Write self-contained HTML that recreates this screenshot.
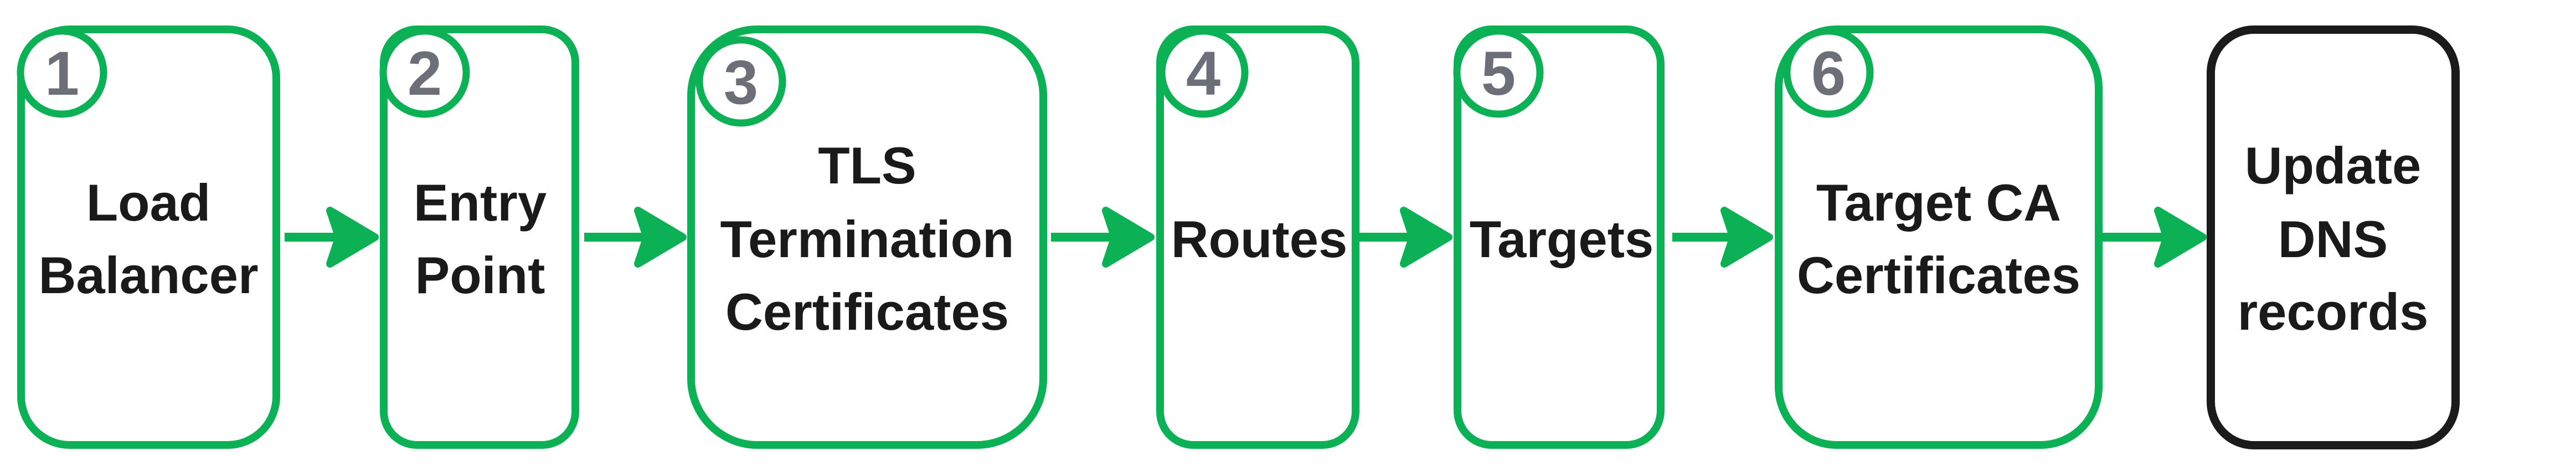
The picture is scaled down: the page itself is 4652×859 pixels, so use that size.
<!DOCTYPE html>
<html><head><meta charset="utf-8"><style>
html,body{margin:0;padding:0;background:#fff;}
svg{display:block;}
.lbl{font-family:"Liberation Sans",Arial,sans-serif;font-weight:bold;font-size:94px;fill:#1a1a1a;text-anchor:middle;}
.num{font-family:"Liberation Sans",Arial,sans-serif;font-weight:bold;font-size:112px;fill:#6c6f77;text-anchor:middle;}
</style></head><body>
<svg width="4652" height="859" viewBox="0 0 4652 859" xmlns="http://www.w3.org/2000/svg">
<g fill="none" stroke="#0db155" stroke-width="14">
<rect x="38" y="53" width="461" height="750" rx="88"/>
<rect x="693" y="53" width="346" height="750" rx="60"/>
<rect x="1248" y="53" width="636" height="750" rx="120"/>
<rect x="2095" y="53" width="353" height="750" rx="60"/>
<rect x="2632" y="53" width="367" height="750" rx="62"/>
<rect x="3212" y="53" width="578" height="750" rx="105"/>
</g>
<rect x="3992.5" y="53.5" width="442" height="750" rx="78" fill="none" stroke="#1b1b1b" stroke-width="15"/>
<g fill="#fff" stroke="#0db155" stroke-width="13">
<circle cx="112" cy="131" r="75"/>
<circle cx="767" cy="131" r="75"/>
<circle cx="1338" cy="147" r="75"/>
<circle cx="2173" cy="131" r="75"/>
<circle cx="2706" cy="131" r="75"/>
<circle cx="3302" cy="131" r="75"/>
</g>
<text class="num" x="112" y="171">1</text>
<text class="num" x="767" y="171">2</text>
<text class="num" x="1338" y="187">3</text>
<text class="num" x="2173" y="171">4</text>
<text class="num" x="2706" y="171">5</text>
<text class="num" x="3302" y="171">6</text>
<g fill="#0db155" stroke="#0db155">
<line x1="514" y1="428" x2="615" y2="428" stroke-width="16"/>
<polygon points="677,428 596,380 612,428 596,476" stroke-width="14" stroke-linejoin="round"/>
<line x1="1055" y1="428" x2="1170" y2="428" stroke-width="16"/>
<polygon points="1233,428 1152,380 1168,428 1152,476" stroke-width="14" stroke-linejoin="round"/>
<line x1="1898" y1="428" x2="2015" y2="428" stroke-width="16"/>
<polygon points="2078,428 1997,380 2013,428 1997,476" stroke-width="14" stroke-linejoin="round"/>
<line x1="2441" y1="428" x2="2553" y2="428" stroke-width="16"/>
<polygon points="2616,428 2535,380 2551,428 2535,476" stroke-width="14" stroke-linejoin="round"/>
<line x1="3020" y1="428" x2="3132" y2="428" stroke-width="16"/>
<polygon points="3195,428 3114,380 3130,428 3114,476" stroke-width="14" stroke-linejoin="round"/>
<line x1="3797" y1="428" x2="3915" y2="428" stroke-width="16"/>
<polygon points="3978,428 3897,380 3913,428 3897,476" stroke-width="14" stroke-linejoin="round"/>
</g>
<text class="lbl" x="268" y="398">Load</text>
<text class="lbl" x="268" y="529">Balancer</text>
<text class="lbl" x="867" y="398">Entry</text>
<text class="lbl" x="867" y="529">Point</text>
<text class="lbl" x="1566" y="331">TLS</text>
<text class="lbl" x="1566" y="464">Termination</text>
<text class="lbl" x="1566" y="595">Certificates</text>
<text class="lbl" x="2274" y="464">Routes</text>
<text class="lbl" x="2820" y="464">Targets</text>
<text class="lbl" x="3501" y="398">Target CA</text>
<text class="lbl" x="3501" y="529">Certificates</text>
<text class="lbl" x="4213" y="331">Update</text>
<text class="lbl" x="4213" y="464">DNS</text>
<text class="lbl" x="4213" y="595">records</text>
</svg>
</body></html>
